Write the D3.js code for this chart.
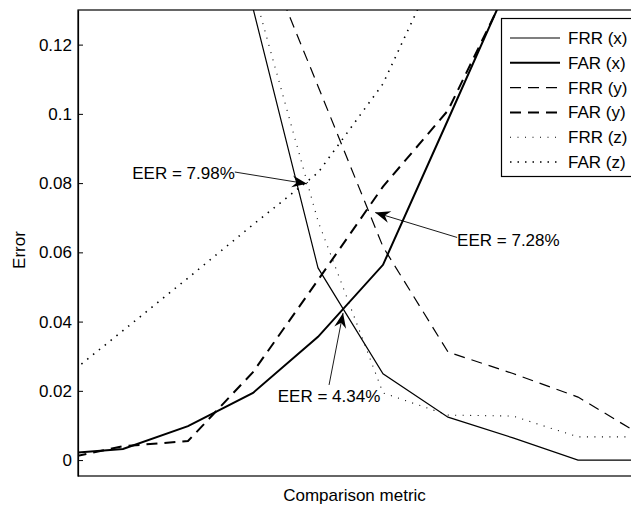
<!DOCTYPE html>
<html>
<head>
<meta charset="utf-8">
<script src="https://cdn.jsdelivr.net/npm/d3@7"></script>
<style>
  body { margin: 0; background: #fff; }
  text { font-family: "Liberation Sans", Arial, Helvetica, sans-serif; }
</style>
</head>
<body>
<svg id="chart" width="631" height="508"></svg>
<script>
// comparison metric steps (index along x)
var steps = [0, 1, 2, 3, 4, 5, 6, 7, 8, 9];

// error rates per step
var frrX = [0.36, 0.27, 0.2, 0.1305, 0.0555, 0.0249, 0.0124, 0.0064, 0.0, 0.0];
var farX = [0.0017, 0.0032, 0.0098, 0.0194, 0.0356, 0.0564, 0.0983, 0.1405, 0.18, 0.22];
var frrY = [0.4, 0.3, 0.22, 0.154, 0.108, 0.0616, 0.0312, 0.025, 0.0182, 0.0069];
var farY = [0.0, 0.004, 0.0055, 0.0254, 0.052, 0.079, 0.101, 0.1395, 0.19, 0.23];
var frrZ = [0.35, 0.26, 0.19, 0.1363, 0.069, 0.0194, 0.013, 0.0127, 0.0067, 0.0067];
var farZ = [0.0223, 0.0374, 0.0526, 0.068, 0.083, 0.1087, 0.149, 0.2, 0.25, 0.3];

var seriesNames = ["FRR (x)", "FAR (x)", "FRR (y)", "FAR (y)", "FRR (z)", "FAR (z)"];
var yTicks = [0, 0.02, 0.04, 0.06, 0.08, 0.1, 0.12];

// EER annotations: label, arrow tip and tail in data units
var eerLabels = ["EER = 7.98%", "EER = 7.28%", "EER = 4.34%"];
var eerTips = [[3.83, 0.0798], [4.88, 0.0715], [4.385, 0.0425]];
var eerTails = [[2.72, 0.0832], [6.14, 0.0643], [4.17, 0.0217]];

var svg = d3.select("#chart");
var margin = { top: 10, left: 78, bottom: 32 };
var plotRight = 631, plotBottom = 508 - margin.bottom;

var x = d3.scaleLinear()
    .domain([0.3077, 8.815])
    .range([margin.left, plotRight]);
var y = d3.scaleLinear()
    .domain([-0.0046, 0.13])
    .range([plotBottom, margin.top]);

svg.append("clipPath").attr("id", "clip")
    .append("rect")
    .attr("x", margin.left).attr("y", margin.top)
    .attr("width", plotRight - margin.left + 5)
    .attr("height", plotBottom - margin.top);

// line styles: thin for FRR, thick for FAR
var styles = [
    { w: 1.2, dash: null },
    { w: 2, dash: null },
    { w: 1.2, dash: "11,7" },
    { w: 2, dash: "11,7" },
    { w: 1.1, dash: "1,6.5" },
    { w: 1.6, dash: "1.5,6" }
];
var allSeries = [frrX, farX, frrY, farY, frrZ, farZ];

var line = d3.line()
    .x(function (d, i) { return x(steps[i]); })
    .y(function (d) { return y(d); });

var lines = svg.append("g").attr("clip-path", "url(#clip)");
allSeries.forEach(function (s, k) {
    lines.append("path")
        .attr("d", line(s))
        .attr("fill", "none")
        .attr("stroke", "#000")
        .attr("stroke-width", styles[k].w)
        .attr("stroke-dasharray", styles[k].dash);
});

// frame
svg.append("rect")
    .attr("x", margin.left).attr("y", margin.top)
    .attr("width", plotRight - margin.left + 2)
    .attr("height", plotBottom - margin.top)
    .attr("fill", "none").attr("stroke", "#000").attr("stroke-width", 1.2);

// y axis, ticks inside
var yAxis = svg.append("g")
    .attr("transform", "translate(" + margin.left + ",0)")
    .call(d3.axisLeft(y)
        .tickValues(yTicks)
        .tickSizeInner(-5)
        .tickSizeOuter(0)
        .tickPadding(6)
        .tickFormat(function (d) { return String(+d.toFixed(2)); }));
yAxis.select(".domain").attr("stroke", "#000").attr("stroke-width", 1.2);
yAxis.selectAll(".tick line").attr("stroke", "#000");
yAxis.selectAll("text")
    .attr("fill", "#000")
    .style("font-size", "17px")
    .style("font-family", "'Liberation Sans', Arial, sans-serif");

// axis labels
svg.append("text")
    .attr("x", (margin.left + plotRight) / 2)
    .attr("y", 501)
    .attr("text-anchor", "middle")
    .style("font-size", "17px")
    .text("Comparison metric");
svg.append("text")
    .attr("transform", "translate(25,250) rotate(-90)")
    .attr("text-anchor", "middle")
    .style("font-size", "17px")
    .text("Error");

// EER arrows
var anno = svg.append("g");
eerLabels.forEach(function (lbl, k) {
    var tx = x(eerTips[k][0]), ty = y(eerTips[k][1]);
    var sx = x(eerTails[k][0]), sy = y(eerTails[k][1]);
    var ang = Math.atan2(ty - sy, tx - sx) * 180 / Math.PI;
    anno.append("line")
        .attr("x1", sx).attr("y1", sy)
        .attr("x2", tx).attr("y2", ty)
        .attr("stroke", "#000").attr("stroke-width", 0.9);
    anno.append("path")
        .attr("d", "M0,0L-15,-6L-10,0L-15,6Z")
        .attr("transform", "translate(" + tx + "," + ty + ") rotate(" + ang + ")")
        .attr("fill", "#000");
    var t = anno.append("text").style("font-size", "17px").text(lbl);
    if (k === 0) {
        t.attr("x", sx).attr("y", sy + 7).attr("text-anchor", "end");
    } else if (k === 1) {
        t.attr("x", sx).attr("y", sy + 9).attr("text-anchor", "start");
    } else {
        t.attr("x", sx).attr("y", sy + 17).attr("text-anchor", "middle");
    }
});

// legend
var legend = svg.append("g");
legend.append("rect")
    .attr("x", 501.5).attr("y", 18.5)
    .attr("width", 140).attr("height", 158)
    .attr("fill", "#fff").attr("stroke", "#000").attr("stroke-width", 1.2);
seriesNames.forEach(function (name, k) {
    var cy = 38 + k * 24.8;
    legend.append("line")
        .attr("x1", 510).attr("x2", 560)
        .attr("y1", cy).attr("y2", cy)
        .attr("stroke", "#000")
        .attr("stroke-width", styles[k].w)
        .attr("stroke-dasharray", styles[k].dash);
    legend.append("text")
        .attr("x", 568).attr("y", cy + 6)
        .style("font-size", "17px")
        .text(name);
});
</script>
</body>
</html>
